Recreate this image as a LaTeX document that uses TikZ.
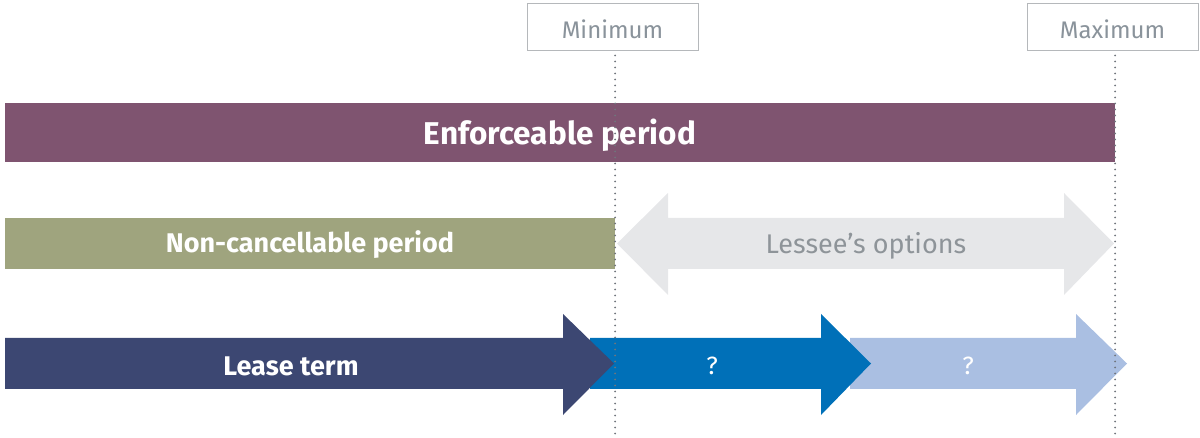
\documentclass[tikz,border=0pt]{standalone}
\usepackage{fontspec}
\setmainfont{Fira Sans}
\definecolor{enfcol}{HTML}{7F5470}
\definecolor{noncol}{HTML}{9FA47E}
\definecolor{optcol}{HTML}{E6E7E9}
\definecolor{opttext}{HTML}{8E9499}
\definecolor{leasecol}{HTML}{3C4772}
\definecolor{qcol}{HTML}{0070B8}
\definecolor{qlight}{HTML}{AABFE2}
\definecolor{boxline}{HTML}{B5B8BB}
\definecolor{boxtext}{HTML}{8A939B}
\definecolor{dotcol}{HTML}{70757C}
\begin{document}
\begin{tikzpicture}[x=1pt,y=-1pt,
  limitbox/.style={draw=boxline, line width=1pt, fill=white, minimum width=171pt, minimum height=47pt,
    inner sep=0pt, text=boxtext, font=\fontsize{24}{27}\selectfont},
  bartext/.style={text=white, font=\bfseries\fontsize{27}{30}\selectfont},
  guide/.style={dotcol, line width=2pt, dash pattern=on 0pt off 6pt, line cap=round}]
\useasboundingbox (0,0) rectangle (1200,438);

% enforceable period bar
\fill[enfcol] (5,103) rectangle (1115,162);
\node[bartext, font=\bfseries\fontsize{31.5}{34}\selectfont] (enf) at (560,135) {Enforceable period};

% non-cancellable period bar
\fill[noncol] (5,218) rectangle (615,269);
\node[bartext] (non) at (310,245) {Non-cancellable period};

% lessee's options double arrow
\fill[optcol] (617,243.5) -- (668,193) -- (668,218) -- (1064,218) -- (1064,193) -- (1114,243.5)
  -- (1064,295) -- (1064,269) -- (668,269) -- (668,295) -- cycle;
\node[text=opttext, font=\fontsize{27}{30}\selectfont] (opt) at (866,246) {Lessee’s options};

% lease term arrows, drawn back to front
\fill[qlight] (850,338) -- (1076,338) -- (1076,314) -- (1127,363.5) -- (1076,415) -- (1076,389) -- (850,389) -- cycle;
\fill[qcol] (590,338) -- (821,338) -- (821,314) -- (871,363.5) -- (821,415) -- (821,389) -- (590,389) -- cycle;
\fill[leasecol] (5,338) -- (563,338) -- (563,314) -- (614,363.5) -- (563,415) -- (563,389) -- (5,389) -- cycle;
\node[bartext] (lease) at (291,366) {Lease term};
\node[text=white, font=\fontsize{25}{28}\selectfont] (q1) at (712,366) {?};
\node[text=white, font=\fontsize{25}{28}\selectfont] (q2) at (968,366) {?};

% limits and their guide lines
\node[limitbox] (min) at (612.5,27.5) {\raisebox{-2pt}[\height][\depth]{Minimum}};
\node[limitbox] (max) at (1112.5,27.5) {\raisebox{-2pt}[\height][\depth]{Maximum}};
\coordinate (minend) at (615,438);
\coordinate (maxend) at (1115,438);
\draw[guide] ([xshift=2.5pt,yshift=-4pt]min.south) -- (minend);
\draw[guide] ([xshift=2.5pt,yshift=-4pt]max.south) -- (maxend);
\end{tikzpicture}
\end{document}
